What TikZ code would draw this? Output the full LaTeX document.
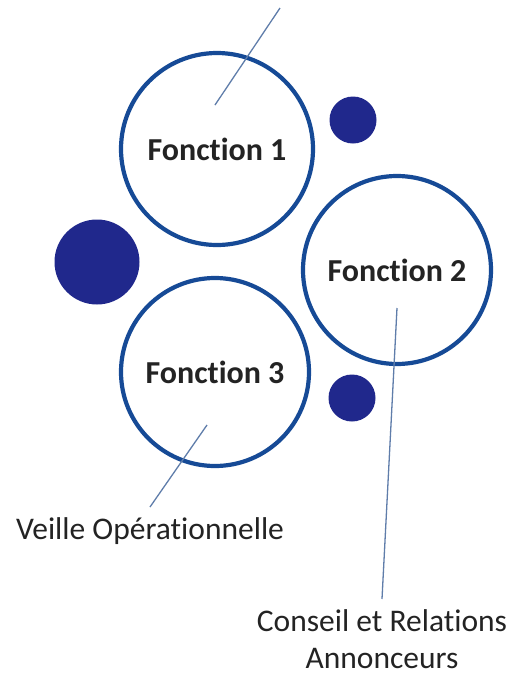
\documentclass[tikz,border=0pt]{standalone}
\usepackage{fontspec}
\setmainfont{Carlito}[Ligatures={NoCommon}]
\usepackage{tikz}
\usetikzlibrary{positioning}

\definecolor{ringblue}{RGB}{22,74,150}
\definecolor{dotblue}{RGB}{32,40,140}
\definecolor{leader}{RGB}{95,125,170}
\definecolor{txt}{RGB}{35,35,35}

\begin{document}
\begin{tikzpicture}[x=1pt,y=-1pt,
    fonction/.style={circle,draw=ringblue,line width=4.2pt,fill=white,minimum size=#1,inner sep=0pt,
      font=\fontsize{32}{38}\selectfont\bfseries,text=txt},
    dot/.style={circle,fill=dotblue,minimum size=#1,inner sep=0pt},
    lbl/.style={font=\fontsize{31.5}{37}\selectfont,text=txt,align=center,inner sep=10pt},
    lead/.style={draw=leader,line width=1.3pt}]
  \useasboundingbox (0,0) rectangle (514,678);

  \node[fonction=192pt](f1) at (217,149){Fonction 1};
  \node[fonction=188pt](f2) at (397,270){Fonction 2};
  \node[fonction=188pt](f3) at (215,372){Fonction 3};

  \node[dot=47pt](d1) at (353,120){};
  \node[dot=85pt](d2) at (97,262){};
  \node[dot=47pt](d3) at (352,398){};

  \node[lbl,anchor=north](veille) at (150,507){Veille Opérationnelle};
  \node[lbl,anchor=north](conseil) at (382,599){Conseil et Relations\\Annonceurs};

  % leader lines
  \coordinate (c1in) at (215,105);
  \coordinate (c1out) at (280,8);
  \coordinate (c2in) at (397,308);
  \coordinate (c3in) at (207,425);
  \draw[lead] (c1in) -- (c1out);
  \draw[lead] (c2in) -- (conseil.north);
  \draw[lead] (c3in) -- (veille.north);
\end{tikzpicture}
\end{document}
